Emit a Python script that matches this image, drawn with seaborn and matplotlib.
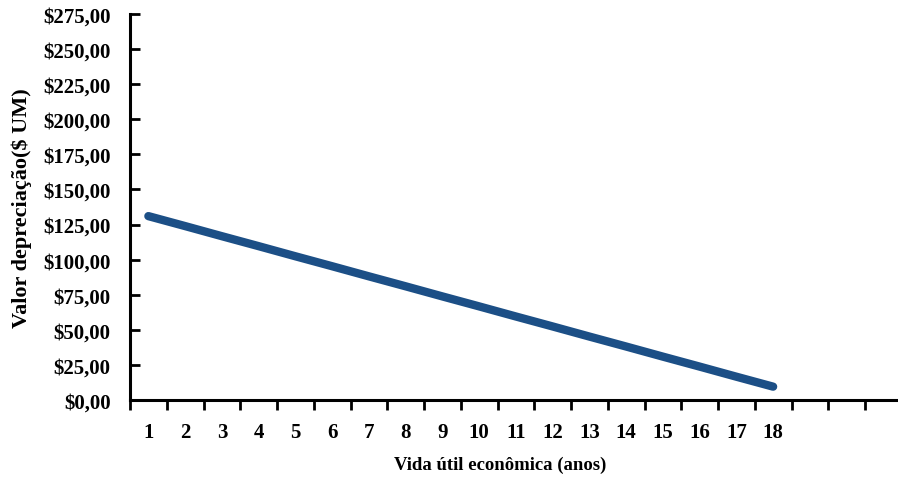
import matplotlib
matplotlib.use('Agg')
import matplotlib.pyplot as plt
import seaborn as sns
import pandas as pd
from matplotlib.ticker import FuncFormatter, FixedLocator

# Depreciation per year.
anos = list(range(1, 19))
depreciacao = [131.0, 123.9, 116.7, 109.6, 102.4, 95.3, 88.1, 81.0, 73.8,
               66.7, 59.5, 52.4, 45.2, 38.1, 30.9, 23.8, 16.6, 9.5]
y_ticks = [0, 25, 50, 75, 100, 125, 150, 175, 200, 225, 250, 275]

df = pd.DataFrame({'ano': anos, 'valor': depreciacao})

sns.set_style('ticks')
plt.rcParams['font.family'] = ['Liberation Serif', 'DejaVu Serif']
plt.rcParams['font.weight'] = 'bold'
plt.rcParams['text.color'] = 'black'
plt.rcParams['axes.labelcolor'] = 'black'
plt.rcParams['xtick.color'] = 'black'
plt.rcParams['ytick.color'] = 'black'

fig = plt.figure(figsize=(8.98, 4.81), dpi=100)
ax = fig.add_axes([130 / 898, 1 - 401 / 481, 768 / 898, 386 / 481])

sns.lineplot(data=df, x='ano', y='valor', ax=ax, color='#1c4f86',
             linewidth=6, solid_capstyle='round')

ax.set_xlim(0.5, 0.5 + 768 / 36.75)
ax.set_ylim(0, 275)

# Category labels without marks, marks between categories.
ax.xaxis.set_major_locator(FixedLocator(anos))
ax.xaxis.set_minor_locator(FixedLocator([k + 0.5 for k in range(0, 21)]))
ax.tick_params(axis='x', which='major', length=0, pad=16, labelsize=15)
ax.tick_params(axis='x', which='minor', length=7, width=2, direction='out')

ax.set_yticks(y_ticks)
ax.yaxis.set_major_formatter(FuncFormatter(lambda v, p: '$' + f'{v:.2f}'.replace('.', ',')))
ax.tick_params(axis='y', length=7, width=2, direction='in', pad=14, labelsize=15)

for s in ['top', 'right']:
    ax.spines[s].set_visible(False)
for s in ['left', 'bottom']:
    ax.spines[s].set_linewidth(2.2)
    ax.spines[s].set_color('black')

ax.set_xlabel('Vida útil econômica (anos)', fontsize=13.5, fontweight='bold')
ax.set_ylabel('Valor depreciação($ UM)', fontsize=16, fontweight='bold')
ax.xaxis.set_label_coords(0.482, -0.145)
ax.yaxis.set_label_coords(-0.128, 0.5)

fig.savefig('out.png', dpi=100)
